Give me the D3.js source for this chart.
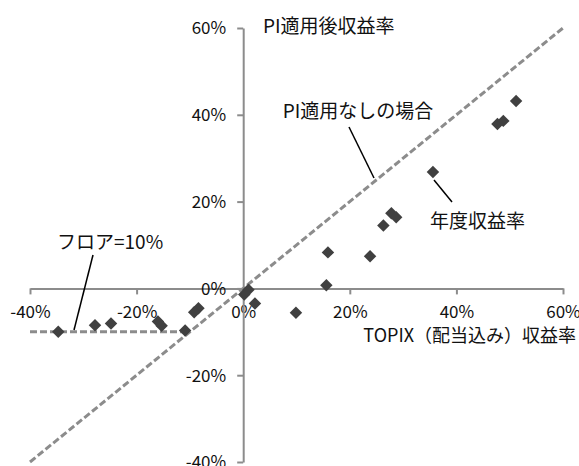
<!DOCTYPE html>
<html>
<head>
<meta charset="utf-8">
<script src="https://cdn.jsdelivr.net/npm/d3@7"></script>
<style>
  body { margin: 0; background: #fff; }
  text { font-family: "Noto Sans CJK JP", "Noto Sans", sans-serif; fill: #111; }
</style>
</head>
<body>
<svg id="chart"></svg>
<script>
var w = 579;
var h = 466;

// TOPIX return (x) vs return after PI (y), in %
var topix = [51.2, 47.7, 48.8, 35.6, 27.8, 28.7, 26.3, 15.9, 23.8, 15.6, 9.9, 2.2, 1.0, 0.2, -8.4, -9.2, -10.9, -15.3, -16.0, -24.8, -27.8, -34.7];
var piReturn = [43.2, 37.9, 38.6, 26.8, 17.3, 16.4, 14.5, 8.3, 7.4, 0.7, -5.6, -3.5, -0.3, -1.4, -4.6, -5.5, -9.7, -8.6, -7.6, -8.1, -8.5, -10.0];
var ticks = [-40, -20, 0, 20, 40, 60];
var floorLevel = -10;
var diagonal = [-40, 60];

var svg = d3.select('#chart').attr('width', w).attr('height', h);

var x = d3.scaleLinear().domain([-40, 60]).range([30, 563]);
var y = d3.scaleLinear().domain([-40, 60]).range([462, 28]);

var axisColor = '#8c8c8c';

// x axis through y = 0
var xAxis = svg.append('g')
  .attr('transform', 'translate(0,' + y(0) + ')')
  .call(d3.axisBottom(x).tickValues(ticks).tickSize(6).tickSizeOuter(0)
    .tickFormat(function (d) { return d + '%'; }));
xAxis.select('.domain').attr('stroke', axisColor).attr('stroke-width', 2);
xAxis.selectAll('.tick line').attr('stroke', axisColor).attr('stroke-width', 2);
xAxis.selectAll('.tick text')
  .attr('y', 30).attr('dy', 0)
  .style('font-size', '17px');

// y axis through x = 0
var yAxis = svg.append('g')
  .attr('transform', 'translate(' + x(0) + ',0)')
  .call(d3.axisLeft(y).tickValues(ticks).tickSize(6).tickSizeOuter(0)
    .tickFormat(function (d) { return d + '%'; }));
yAxis.select('.domain').attr('stroke', axisColor).attr('stroke-width', 2);
yAxis.selectAll('.tick line').attr('stroke', axisColor).attr('stroke-width', 2);
yAxis.selectAll('.tick text')
  .attr('x', -17).attr('dy', '0.35em')
  .style('font-size', '17px');

// no-PI line (y = x)
svg.append('line')
  .attr('x1', x(diagonal[0])).attr('y1', y(diagonal[0]))
  .attr('x2', x(diagonal[1])).attr('y2', y(diagonal[1]))
  .style('stroke', axisColor)
  .style('stroke-width', 3)
  .style('stroke-dasharray', '7,3');

// floor line
svg.append('line')
  .attr('x1', x(-40)).attr('y1', y(floorLevel))
  .attr('x2', x(floorLevel)).attr('y2', y(floorLevel))
  .style('stroke', axisColor)
  .style('stroke-width', 3)
  .style('stroke-dasharray', '7,3');

// points
var diamond = d3.symbol().type(d3.symbolSquare).size(78);
svg.selectAll('path.pt')
  .data(topix)
  .enter()
  .append('path')
  .attr('class', 'pt')
  .attr('d', diamond)
  .attr('transform', function (d, i) {
    return 'translate(' + x(d) + ',' + y(piReturn[i]) + ') rotate(45)';
  })
  .style('fill', '#404040');

// callouts
var callouts = [
  [349, 127, 374, 178],
  [434, 180, 452, 202],
  [93, 255, 74, 330]
];
svg.selectAll('line.callout')
  .data(callouts)
  .enter()
  .append('line')
  .attr('class', 'callout')
  .attr('x1', function (d) { return d[0]; })
  .attr('y1', function (d) { return d[1]; })
  .attr('x2', function (d) { return d[2]; })
  .attr('y2', function (d) { return d[3]; })
  .style('stroke', '#000')
  .style('stroke-width', 1.5);

var labels = [
  ['PI適用後収益率', 263, 33, 'start', 19],
  ['PI適用なしの場合', 358, 118, 'middle', 19],
  ['年度収益率', 430, 228, 'start', 19],
  ['フロア=10%', 57, 249, 'start', 19],
  ['TOPIX（配当込み）収益率', 576, 342, 'end', 18]
];
svg.selectAll('text.lbl')
  .data(labels)
  .enter()
  .append('text')
  .attr('class', 'lbl')
  .attr('x', function (d) { return d[1]; })
  .attr('y', function (d) { return d[2]; })
  .attr('text-anchor', function (d) { return d[3]; })
  .style('font-size', function (d) { return d[4] + 'px'; })
  .text(function (d) { return d[0]; });
</script>
</body>
</html>
